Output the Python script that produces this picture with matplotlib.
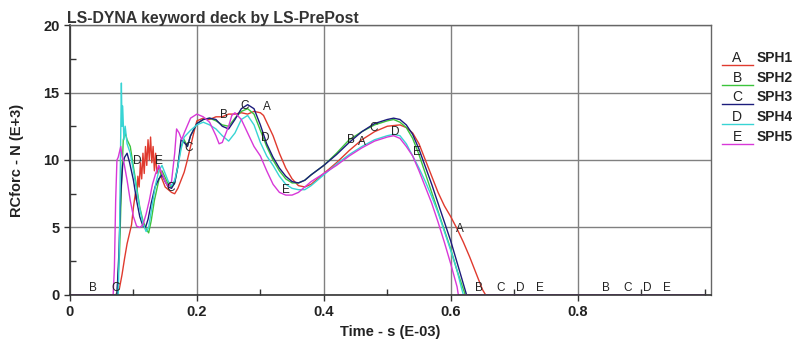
import matplotlib
matplotlib.use("Agg")
import matplotlib.pyplot as plt
from matplotlib.lines import Line2D
from matplotlib.ticker import MultipleLocator

plt.rcParams['font.family'] = ['Liberation Sans', 'DejaVu Sans']

# ---------------- data ----------------
t_A = [0, 0.072, 0.078, 0.082, 0.086, 0.09, 0.094, 0.097, 0.1, 0.103, 0.105, 0.107, 0.109, 0.111,
       0.113, 0.115, 0.117, 0.119, 0.121, 0.123, 0.125, 0.127, 0.129, 0.131, 0.133, 0.135, 0.137,
       0.14, 0.145, 0.15, 0.155, 0.16, 0.165, 0.17, 0.175, 0.18, 0.185, 0.19, 0.195, 0.2, 0.21,
       0.22, 0.23, 0.24, 0.25, 0.26, 0.27, 0.28, 0.29, 0.3, 0.305, 0.31, 0.32, 0.33, 0.34, 0.35,
       0.36, 0.37, 0.38, 0.39, 0.4, 0.42, 0.44, 0.46, 0.48, 0.5, 0.52, 0.53, 0.54, 0.55, 0.56,
       0.57, 0.58, 0.59, 0.6, 0.61, 0.62, 0.63, 0.64, 0.65, 0.655, 1.0]
f_A = [0, 0, 0.5, 1.5, 2.7, 3.8, 4.6, 5.2, 6.5, 7.5, 7.0, 8.8, 8.0, 9.8,
       8.6, 10.5, 9.0, 11.0, 9.6, 11.5, 10.0, 11.7, 9.8, 11.0, 9.2, 10.5, 9.0,
       9.5, 8.6, 8.0, 7.8, 7.6, 7.5, 7.9, 8.5, 9.1, 10.0, 11.0, 12.0, 12.9, 13.1,
       13.0, 13.2, 13.2, 13.4, 13.4, 13.5, 13.4, 13.6, 13.5, 13.3, 12.8, 11.8, 10.5, 9.4, 8.6,
       8.1, 8.0, 8.2, 8.6, 9.0, 9.8, 10.7, 11.5, 12.1, 12.5, 12.6, 12.4, 12.0, 11.2, 10.0,
       8.8, 7.6, 6.6, 5.8, 4.9, 3.9, 2.8, 1.6, 0.4, 0, 0]

t_B = [0, 0.074, 0.078, 0.081, 0.084, 0.087, 0.09, 0.095, 0.1, 0.105, 0.11, 0.115, 0.12, 0.124,
       0.128, 0.133, 0.14, 0.145, 0.15, 0.155, 0.16, 0.165, 0.17, 0.175, 0.18, 0.185, 0.19, 0.2,
       0.21, 0.22, 0.23, 0.24, 0.25, 0.26, 0.27, 0.28, 0.29, 0.3, 0.31, 0.32, 0.33, 0.34, 0.35,
       0.36, 0.37, 0.38, 0.4, 0.42, 0.44, 0.46, 0.48, 0.5, 0.51, 0.52, 0.53, 0.54, 0.55, 0.56,
       0.57, 0.58, 0.59, 0.6, 0.61, 0.62, 0.623, 1.0]
f_B = [0, 0, 3, 8, 11.5, 12.0, 11.5, 11.0, 9.5, 8, 6.5, 5.5, 4.9, 4.6,
       5.5, 7, 8.5, 9.2, 8.7, 8.2, 8.0, 8.3, 9.6, 11.0, 11.5, 11.0, 11.8, 12.7,
       13.0, 13.1, 12.9, 12.6, 12.5, 13.1, 13.6, 13.8, 13.4, 12.2, 11.0, 10.0, 9.2, 8.6, 8.3,
       8.3, 8.5, 8.9, 9.6, 10.5, 11.5, 12.1, 12.6, 12.9, 13.0, 12.8, 12.4, 11.6, 10.4, 9.0,
       7.6, 6.2, 4.8, 3.4, 1.8, 0.4, 0, 0]

t_C = [0, 0.074, 0.077, 0.08, 0.083, 0.086, 0.09, 0.094, 0.1, 0.105, 0.11, 0.115, 0.119, 0.123,
       0.128, 0.134, 0.14, 0.145, 0.15, 0.155, 0.16, 0.165, 0.17, 0.175, 0.18, 0.185, 0.19, 0.2,
       0.21, 0.22, 0.23, 0.24, 0.25, 0.26, 0.27, 0.28, 0.29, 0.3, 0.31, 0.32, 0.33, 0.34, 0.35,
       0.36, 0.37, 0.38, 0.4, 0.42, 0.44, 0.46, 0.48, 0.5, 0.51, 0.52, 0.53, 0.54, 0.55, 0.56,
       0.57, 0.58, 0.59, 0.6, 0.61, 0.62, 0.625, 1.0]
f_C = [0, 0, 3, 7.5, 9.6, 10.2, 10.5, 9.8, 8.5, 7.0, 5.8, 5.1, 5.0, 5.6,
       6.8, 8.0, 8.6, 8.9, 8.4, 8.0, 7.9, 8.3, 9.5, 11.5, 11.3, 11.0, 11.8, 12.7,
       13.0, 13.1, 13.0, 12.5, 12.3, 13.0, 13.8, 14.1, 13.8, 12.6, 11.2, 10.2, 9.4, 8.8, 8.4,
       8.3, 8.5, 8.9, 9.6, 10.4, 11.3, 12.1, 12.7, 13.0, 13.1, 13.0, 12.6, 11.9, 10.8, 9.5,
       8.2, 6.8, 5.4, 4.0, 2.4, 0.8, 0, 0]

t_D = [0, 0.076, 0.078, 0.08, 0.081, 0.082, 0.083, 0.085, 0.087, 0.09, 0.095, 0.1, 0.105, 0.11,
       0.115, 0.12, 0.124, 0.13, 0.135, 0.14, 0.145, 0.15, 0.155, 0.16, 0.165, 0.17, 0.175, 0.18,
       0.19, 0.2, 0.21, 0.22, 0.23, 0.24, 0.25, 0.26, 0.27, 0.28, 0.29, 0.3, 0.31, 0.32, 0.33,
       0.34, 0.35, 0.36, 0.37, 0.38, 0.4, 0.42, 0.44, 0.46, 0.48, 0.5, 0.51, 0.52, 0.53, 0.54,
       0.55, 0.56, 0.57, 0.58, 0.59, 0.6, 0.61, 0.617, 0.62, 1.0]
f_D = [0, 0, 4, 12, 15.7, 12.5, 14.0, 11.5, 12.5, 11.2, 10.5, 9.2, 7.8, 6.4,
       5.3, 4.7, 5.0, 6.8, 8.2, 9.2, 9.6, 9.0, 8.4, 8.1, 8.5, 9.5, 10.8, 11.7,
       12.2, 12.6, 12.8, 12.6, 12.3, 11.8, 11.4, 12.0, 13.0, 13.3, 12.6, 11.3, 10.3, 9.6, 8.8,
       8.2, 7.9, 7.8, 7.8, 8.1, 8.9, 9.7, 10.4, 11.0, 11.5, 11.8, 11.9, 11.8, 11.2, 10.3,
       9.4, 8.4, 7.3, 6.1, 4.7, 3.3, 1.8, 0.5, 0, 0]

t_E = [0, 0.068, 0.07, 0.072, 0.074, 0.076, 0.078, 0.08, 0.082, 0.085, 0.09, 0.095, 0.1, 0.105,
       0.11, 0.115, 0.12, 0.125, 0.13, 0.135, 0.14, 0.145, 0.15, 0.155, 0.16, 0.165, 0.168, 0.172,
       0.176, 0.18, 0.19, 0.2, 0.21, 0.22, 0.23, 0.235, 0.24, 0.25, 0.255, 0.26, 0.27, 0.28, 0.29,
       0.3, 0.31, 0.32, 0.33, 0.34, 0.35, 0.36, 0.37, 0.38, 0.4, 0.42, 0.44, 0.46, 0.48, 0.5,
       0.51, 0.52, 0.53, 0.54, 0.55, 0.56, 0.57, 0.58, 0.59, 0.6, 0.61, 0.612, 1.0]
f_E = [0, 0, 2, 7, 10.0, 10.2, 10.6, 11.0, 10.3, 9.8, 8.5, 7.0, 5.8, 5.1,
       5.0, 5.2, 6.0, 7.0, 8.2, 9.0, 9.6, 9.0, 8.4, 8.0, 8.4, 10.5, 12.3, 12.0,
       11.5, 12.0, 13.1, 13.4, 13.2, 12.8, 11.8, 11.2, 11.3, 12.5, 13.3, 13.5, 13.0, 12.0, 11.0,
       10.3, 9.2, 8.2, 7.6, 7.4, 7.4, 7.6, 8.0, 8.4, 9.0, 9.6, 10.3, 10.9, 11.4, 11.7,
       11.8, 11.6, 11.0, 10.3, 9.2, 8.0, 6.8, 5.4, 3.9, 2.3, 0.6, 0, 0]

series_names = ["SPH1", "SPH2", "SPH3", "SPH4", "SPH5"]
series_letters = ["A", "B", "C", "D", "E"]
series_t = [t_A, t_B, t_C, t_D, t_E]
series_f = [f_A, f_B, f_C, f_D, f_E]
colors = ["#e03a2e", "#3cc43c", "#1c1c7c", "#38d4d4", "#d838d8"]

# curve identification letters placed along the curves
mark_letters = ["B", "C", "D", "E", "C", "C", "B", "C", "A", "D", "E",
                "B", "A", "C", "D", "E", "A",
                "B", "C", "D", "E", "B", "C", "D", "E"]
mark_t = [0.036, 0.072, 0.106, 0.140, 0.158, 0.187, 0.243, 0.275, 0.310, 0.308, 0.341,
          0.443, 0.460, 0.478, 0.513, 0.546, 0.614,
          0.645, 0.678, 0.710, 0.740, 0.845, 0.878, 0.910, 0.940]
mark_f = [0.5, 0.5, 9.9, 9.9, 7.9, 10.9, 13.3, 14.0, 13.9, 11.6, 7.8,
          11.5, 11.3, 12.4, 12.1, 10.6, 4.9,
          0.5, 0.5, 0.5, 0.5, 0.5, 0.5, 0.5, 0.5]

x_ticks = [0, 0.2, 0.4, 0.6, 0.8]
x_ticklabels = ["0", "0.2", "0.4", "0.6", "0.8"]
y_ticks = [0, 5, 10, 15, 20]
y_ticklabels = ["0", "5", "10", "15", "20"]

# ---------------- figure ----------------
fig = plt.figure(figsize=(7.97, 3.45), dpi=100)
ax = fig.add_axes([0.0878, 0.145, 0.892 - 0.0878, 0.9275 - 0.145])

for t, f, c in zip(series_t, series_f, colors):
    ax.plot(t, f, color=c, lw=1.0)

for L, t, f in zip(mark_letters, mark_t, mark_f):
    ax.text(t, f, L, fontsize=8.5, color="#222222", ha="center", va="center")

ax.set_xlim(0, 1.01)
ax.set_ylim(0, 20)
ax.set_xticks(x_ticks)
ax.set_xticklabels(x_ticklabels)
ax.set_yticks(y_ticks)
ax.set_yticklabels(y_ticklabels)
ax.xaxis.set_minor_locator(MultipleLocator(0.1))
ax.yaxis.set_minor_locator(MultipleLocator(2.5))
ax.tick_params(which="major", direction="out", length=4, width=1, color="#333333",
               labelsize=10.5, labelcolor="#222222")
ax.tick_params(which="minor", direction="in", length=4, width=1, color="#333333")
for lab in ax.get_xticklabels() + ax.get_yticklabels():
    lab.set_fontweight("bold")
ax.grid(True, which="major", color="#808080", lw=1.0)
ax.set_axisbelow(True)
for s in ["left", "bottom"]:
    ax.spines[s].set_color("#333333")
    ax.spines[s].set_linewidth(1.2)
for s in ["top", "right"]:
    ax.spines[s].set_color("#666666")
    ax.spines[s].set_linewidth(1.0)

ax.set_xlabel("Time - s (E-03)", fontsize=10.5, fontweight="bold", color="#222222", labelpad=4)
ax.set_ylabel("RCforc - N (E+3)", fontsize=10.5, fontweight="bold", color="#222222", labelpad=14)

fig.text(67 / 797, 1 - 18.5 / 345, "LS-DYNA keyword deck by LS-PrePost", fontsize=11.4,
         fontweight="bold", color="#333333", ha="left", va="center")

# legend (LS-PrePost style)
for i, (L, name, c) in enumerate(zip(series_letters, series_names, colors)):
    yc = 58 + i * 19.7
    fig.text(737 / 797, 1 - yc / 345, L, fontsize=10, color="#222222", ha="center", va="center")
    fig.add_artist(Line2D([722 / 797, 753 / 797], [1 - (yc + 7) / 345] * 2, color=c, lw=1.0))
    fig.text(757 / 797, 1 - yc / 345, name, fontsize=10, fontweight="bold", color="#222222",
             ha="left", va="center")

fig.savefig("out.png", dpi=100)
